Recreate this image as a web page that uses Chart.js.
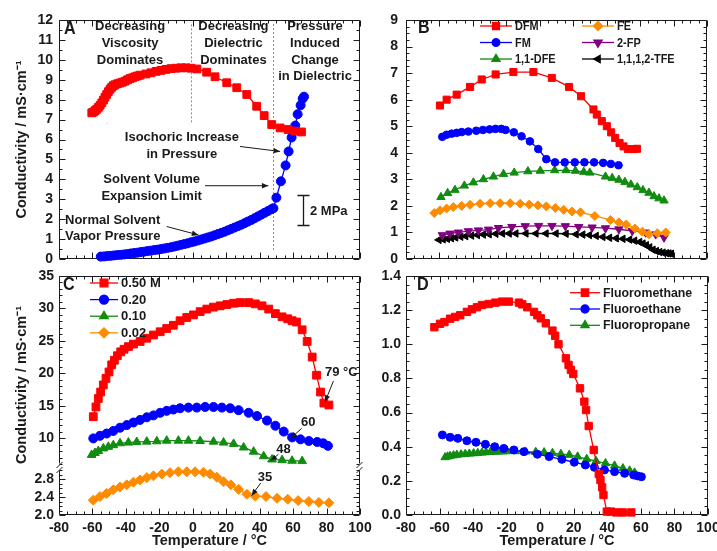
<!DOCTYPE html>
<html>
<head>
<meta charset="utf-8">
<script src="https://cdn.jsdelivr.net/npm/chart.js@4"></script>
<style>
  html, body { margin: 0; padding: 0; background: #fff; }
  #wrap { position: relative; width: 717px; height: 551px; overflow: hidden; background: #fff; }
  #wrap canvas { position: absolute; left: 0; top: 0; }
</style>
</head>
<body>
<div id="wrap">
  <canvas id="cA" width="717" height="551"></canvas>
  <canvas id="cB" width="717" height="551"></canvas>
  <canvas id="cC1" width="717" height="551"></canvas>
  <canvas id="cC2" width="717" height="551"></canvas>
  <canvas id="cD" width="717" height="551"></canvas>
</div>
<script>
// ---- tick labels
const tempTicks = [-80, -60, -40, -20, 0, 20, 40, 60, 80, 100];
const aTicks = [0, 1, 2, 3, 4, 5, 6, 7, 8, 9, 10, 11, 12];
const bTicks = [0, 1, 2, 3, 4, 5, 6, 7, 8, 9];
const cHighTicks = [10, 15, 20, 25, 30, 35];
const cLowTicks = [2.0, 2.4, 2.8];
const dTicks = [0, 0.2, 0.4, 0.6, 0.8, 1.0, 1.2, 1.4];

// ---- panel A : DFM with 0.20 M electrolyte
const aDfmT = [-60.4, -59.4, -58.4, -57.4, -56.4, -55.4, -54.4, -53.4, -52.5, -51.5, -50.5, -49.5, -48.5, -47.5, -46.5, -45, -43.5, -42, -40.5, -39, -37.5, -36, -34.5, -33, -31.5, -28, -25, -22, -19, -16, -13, -10, -7, -4, -1, 2.5, 8.3, 13.3, 20.3, 26.3, 32.3, 38.2, 42.7, 47.2, 52.2, 57, 61, 65];
const aDfmV = [7.34, 7.38, 7.45, 7.52, 7.62, 7.72, 7.84, 7.98, 8.12, 8.26, 8.4, 8.52, 8.62, 8.7, 8.75, 8.8, 8.84, 8.88, 8.93, 9.0, 9.06, 9.1, 9.15, 9.19, 9.23, 9.29, 9.35, 9.42, 9.47, 9.52, 9.56, 9.58, 9.6, 9.6, 9.58, 9.54, 9.38, 9.15, 8.85, 8.6, 8.26, 7.67, 7.2, 6.75, 6.58, 6.5, 6.42, 6.38];
const aFmT = [-55, -53, -51, -49, -47, -45, -43, -41, -39, -37, -35, -33, -31, -29, -27, -25, -23, -21, -19, -17, -15, -13, -11, -9, -7, -5, -3, -1, 1, 3, 5, 7, 9, 11, 13, 15, 17, 19, 21, 23, 25, 27, 29, 31, 33, 35, 37, 39, 41, 43, 45, 47, 48.2, 50, 52.7, 55.5, 57.3, 59.1, 61.3, 62.7, 64.5, 65.7, 66.5];
const aFmV = [0.12, 0.13, 0.15, 0.16, 0.18, 0.2, 0.21, 0.23, 0.25, 0.28, 0.3, 0.32, 0.35, 0.37, 0.4, 0.42, 0.45, 0.47, 0.5, 0.53, 0.56, 0.59, 0.63, 0.67, 0.71, 0.75, 0.79, 0.84, 0.88, 0.93, 0.98, 1.03, 1.08, 1.13, 1.19, 1.25, 1.31, 1.37, 1.44, 1.51, 1.58, 1.65, 1.72, 1.8, 1.88, 1.96, 2.05, 2.14, 2.23, 2.32, 2.41, 2.5, 2.55, 3.08, 3.9, 4.7, 5.4, 6.1, 6.7, 7.27, 7.72, 8.05, 8.15];

// ---- panel B : solvents
const bDfmT = [-59.7, -55.7, -49.7, -41.7, -34.7, -26.4, -15.8, -3.8, 7.2, 17.5, 24.7, 32.1, 34.1, 37.1, 40.1, 42.7, 45.1, 47.7, 50.1, 52.7, 56.1, 58.1];
const bDfmV = [5.78, 6.0, 6.19, 6.48, 6.76, 6.95, 7.04, 7.04, 6.82, 6.48, 6.13, 5.63, 5.44, 5.19, 5.0, 4.77, 4.56, 4.37, 4.24, 4.14, 4.14, 4.15];
const bFmT = [-58.3, -55.7, -52.7, -49.7, -46.7, -42.7, -38, -34, -30, -26.5, -23, -20.5, -15.5, -10.9, -5.9, -0.9, 3.9, 9.1, 14.9, 20.9, 26.7, 32.5, 37.9, 42.5, 47.1];
const bFmV = [4.6, 4.68, 4.72, 4.75, 4.78, 4.8, 4.83, 4.86, 4.88, 4.9, 4.9, 4.86, 4.77, 4.62, 4.43, 4.14, 3.76, 3.64, 3.64, 3.64, 3.64, 3.64, 3.62, 3.58, 3.53];
const bDfeT = [-59.1, -55.1, -50.7, -45.1, -39.7, -33.7, -27.7, -21.7, -15.3, -7.1, 0.3, 8.9, 15.7, 21.3, 26.3, 29.9, 39.3, 43.3, 47.3, 50.9, 54.5, 58.3, 61.7, 65.3, 68.3, 71.3, 74.3];
const bDfeV = [2.33, 2.48, 2.6, 2.76, 2.88, 3.0, 3.1, 3.2, 3.25, 3.3, 3.32, 3.34, 3.34, 3.32, 3.28, 3.25, 3.1, 3.05, 2.98, 2.9, 2.8, 2.7, 2.59, 2.49, 2.36, 2.28, 2.2];
const bFeT = [-63.1, -59.7, -55.7, -51.7, -46.7, -41.7, -35.7, -29.7, -23.7, -17.7, -11.7, -6.3, -1.1, 3.9, 9.3, 14.3, 19.3, 24.3, 32.9, 42.3, 47.3, 51.7, 56.9, 61.3, 65.3, 70.3, 75.3];
const bFeV = [1.73, 1.83, 1.9, 1.96, 2.0, 2.04, 2.08, 2.1, 2.1, 2.1, 2.08, 2.05, 2.02, 1.98, 1.92, 1.85, 1.79, 1.76, 1.62, 1.47, 1.38, 1.3, 1.15, 1.03, 0.93, 0.97, 1.0];
const bFpT = [-58.3, -53.7, -48.7, -42.7, -36.7, -30.7, -24.7, -16.7, -8.7, -0.7, 7.3, 15.3, 23.3, 31.3, 39.3, 47.3, 55.3, 63.3, 69.3, 74.3];
const bFpV = [0.9, 0.96, 1.0, 1.05, 1.08, 1.11, 1.17, 1.21, 1.24, 1.25, 1.25, 1.24, 1.21, 1.19, 1.16, 1.12, 1.06, 1.0, 0.93, 0.81];
const bTfeT = [-60.3, -57.8, -55.3, -52.8, -50.3, -47.3, -44.3, -40.8, -37.3, -33.8, -30.3, -26.3, -22.3, -18.3, -14.3, -8.3, -2.3, 3.7, 9.7, 15.7, 21.7, 25.7, 29.7, 33.7, 37.7, 41.7, 45.7, 49.7, 53.7, 56.7, 59.7, 61.7, 63.7, 65.7, 67.7, 69.7, 71.7, 73.7, 75.7, 77.2, 78.7];
const bTfeV = [0.72, 0.74, 0.76, 0.78, 0.81, 0.84, 0.86, 0.88, 0.9, 0.92, 0.93, 0.95, 0.96, 0.96, 0.96, 0.96, 0.96, 0.96, 0.96, 0.95, 0.93, 0.92, 0.9, 0.87, 0.83, 0.8, 0.78, 0.76, 0.73, 0.69, 0.64, 0.58, 0.52, 0.44, 0.35, 0.3, 0.26, 0.24, 0.22, 0.21, 0.2];

// ---- panel C : salt concentration
const c050T = [-59.5, -57.9, -56.5, -55.1, -53.5, -51.9, -50.1, -48.5, -46.9, -45.1, -43.1, -41.1, -38.5, -35.5, -31.5, -27.5, -23.5, -19.5, -15.6, -11.6, -7.6, -3.6, 0.4, 4.4, 8.4, 12.4, 16.4, 20.4, 24.4, 28.4, 33.4, 37.4, 41.4, 45.4, 49.4, 53.4, 56.8, 59.4, 62, 65.4, 68.4, 71.4, 74, 76.4, 78.4, 81.4];
const c050V = [13.3, 14.8, 16.1, 17.1, 18.2, 19.2, 20.2, 21.3, 22.0, 22.7, 23.3, 23.7, 24.1, 24.5, 24.9, 25.4, 25.9, 26.4, 26.9, 27.4, 28.1, 28.6, 29.0, 29.5, 29.9, 30.2, 30.4, 30.6, 30.8, 30.9, 30.9, 30.7, 30.4, 29.9, 29.2, 28.7, 28.4, 28.1, 27.9, 26.7, 24.9, 22.5, 19.7, 17.1, 15.4, 15.1];
const c020T = [-59.5, -55.5, -51.5, -47.5, -43.5, -39.5, -35.5, -31.5, -27.5, -23.5, -19.5, -15.6, -11.6, -7.6, -2.6, 2.4, 7.4, 12.4, 17.4, 22.4, 27.4, 33.4, 38.4, 44.4, 49.4, 54.4, 59.4, 64.4, 69.4, 74.4, 78, 80.8];
const c020V = [9.95, 10.35, 10.7, 11.1, 11.6, 12.0, 12.4, 12.8, 13.2, 13.5, 13.9, 14.2, 14.4, 14.6, 14.7, 14.7, 14.8, 14.8, 14.7, 14.6, 14.3, 13.9, 13.4, 12.7, 11.9, 11.0, 10.1, 9.8, 9.55, 9.4, 9.2, 8.8];
const c010T = [-60.5, -58.5, -56.5, -53.5, -50.5, -47.5, -43.5, -38.5, -33.5, -27.5, -21.5, -15.6, -8.6, -2.6, 4.4, 12.4, 18.4, 24.4, 30.4, 36.4, 42.4, 47.4, 53.4, 59.4, 65.4];
const c010V = [7.4, 7.7, 8.0, 8.4, 8.65, 8.9, 9.2, 9.3, 9.4, 9.45, 9.5, 9.6, 9.6, 9.6, 9.55, 9.45, 9.3, 9.1, 8.55, 7.9, 7.2, 6.7, 6.6, 6.5, 6.45];
const c002T = [-59.5, -55.5, -51.5, -47.5, -43.5, -39.5, -35.5, -31.5, -27.5, -23.5, -18.5, -13.6, -8.6, -3.6, 1.4, 6.4, 10.4, 14.4, 18.4, 22.8, 27.4, 32.4, 37.4, 43.8, 50.4, 56.8, 63, 69.4, 75.4, 81.4];
const c002V = [2.33, 2.41, 2.48, 2.56, 2.62, 2.67, 2.73, 2.78, 2.83, 2.87, 2.91, 2.94, 2.96, 2.96, 2.96, 2.95, 2.91, 2.84, 2.74, 2.67, 2.57, 2.46, 2.42, 2.41, 2.37, 2.35, 2.32, 2.3, 2.28, 2.27];

// ---- panel D : mono-fluorinated alkanes
const dFmT = [-63.1, -59.7, -57.1, -53.7, -50.7, -47.7, -43.7, -40.7, -37.7, -34.7, -30.7, -26.7, -22.7, -18.7, -12.7, -10.7, -7.7, -3.7, -1.7, 0.3, 3.3, 7.3, 8.9, 10.9, 15.3, 16.9, 18.3, 19.7, 23.7, 26.3, 27.3, 28.9, 31.9, 34.9, 35.9, 36.9, 37.7, 39.7, 42.3, 45.3, 49.3, 54.3];
const dFmV = [1.10, 1.12, 1.13, 1.15, 1.16, 1.17, 1.19, 1.205, 1.217, 1.23, 1.236, 1.244, 1.25, 1.25, 1.244, 1.234, 1.217, 1.19, 1.17, 1.152, 1.123, 1.08, 1.05, 1.0, 0.918, 0.879, 0.85, 0.826, 0.742, 0.664, 0.615, 0.521, 0.381, 0.24, 0.205, 0.162, 0.117, 0.02, 0.02, 0.015, 0.015, 0.015];
const dFeT = [-58.3, -53.7, -49.1, -43.7, -38.3, -32.7, -27.1, -21.7, -15.7, -9.7, -1.7, 5.3, 12.9, 20.3, 26.9, 32.3, 38.3, 44.3, 50.3, 55.7, 58, 60.3];
const dFeV = [0.469, 0.455, 0.449, 0.435, 0.426, 0.414, 0.4, 0.39, 0.381, 0.371, 0.356, 0.342, 0.326, 0.309, 0.293, 0.279, 0.264, 0.254, 0.244, 0.234, 0.229, 0.224];
const dFpT = [-56.7, -55.2, -53.7, -51.7, -49.7, -47.2, -44.7, -42.2, -39.7, -37.2, -34.7, -32.2, -29.7, -27.2, -24.7, -22.2, -19.7, -14.7, -8.7, -2.7, 2.3, 7.3, 12.3, 17.3, 22.3, 27.7, 33.3, 38.9, 44.3, 49.3, 53.3, 56.3];
const dFpV = [0.338, 0.342, 0.346, 0.349, 0.352, 0.355, 0.357, 0.359, 0.361, 0.363, 0.365, 0.367, 0.369, 0.37, 0.371, 0.372, 0.373, 0.373, 0.371, 0.369, 0.367, 0.363, 0.357, 0.352, 0.342, 0.328, 0.316, 0.303, 0.289, 0.273, 0.26, 0.248];

const INK = '#1a1a1a';
const RED = '#ff0000', BLUE = '#0000ff', GREEN = '#118c11', ORANGE = '#ff8c00', PURPLE = '#800080', BLACK = '#000000';
const SANS = "'Liberation Sans', Arial, sans-serif";

function series(label, xs, ys, color, style, r, rot) {
  return {
    label, data: xs.map((x, i) => ({ x, y: ys[i] })),
    borderColor: color, backgroundColor: color, borderWidth: 1.3,
    pointStyle: style, pointRadius: r, pointRotation: rot || 0,
    pointBackgroundColor: color, pointBorderColor: color, pointBorderWidth: 1,
    tension: 0, clip: false
  };
}

function arrow(ctx, x1, y1, x2, y2) {
  const a = Math.atan2(y2 - y1, x2 - x1), h = 7;
  ctx.beginPath(); ctx.moveTo(x1, y1); ctx.lineTo(x2, y2); ctx.stroke();
  ctx.beginPath(); ctx.moveTo(x2, y2);
  ctx.lineTo(x2 - h * Math.cos(a - 0.4), y2 - h * Math.sin(a - 0.4));
  ctx.lineTo(x2 - h * Math.cos(a + 0.4), y2 - h * Math.sin(a + 0.4));
  ctx.closePath(); ctx.fill();
}

// text squeezed horizontally (the figure uses a condensed face)
function narrowText(ctx, t, x, y, k) {
  ctx.save(); ctx.translate(x, y); ctx.scale(k, 1); ctx.fillText(t, 0, 0); ctx.restore();
}

// frame, inward ticks, notes, legend
const decor = {
  id: 'decor',
  beforeDatasetsDraw(chart, args, o) {
    const { ctx, chartArea: a, scales: { x, y } } = chart;
    const sides = o.sides || 'tblr';
    const L = a.left + 0.5, R = a.right - 0.5, T = a.top + 0.5, B = a.bottom - 0.5;
    ctx.save();
    ctx.strokeStyle = INK; ctx.lineWidth = 1;
    ctx.beginPath();
    const seg = (x1, y1, x2, y2) => { ctx.moveTo(x1, y1); ctx.lineTo(x2, y2); };
    if (sides.includes('t')) seg(L, T, R, T);
    if (sides.includes('b')) seg(L, B, R, B);
    if (sides.includes('l')) seg(L, T, L, B);
    if (sides.includes('r')) seg(R, T, R, B);
    const nx = Math.round((x.max - x.min) / o.xMinor);
    for (let i = 0; i <= nx; i++) {
      const v = x.min + i * o.xMinor;
      const len = tempTicks.some(t => Math.abs(t - v) < 1e-6) ? 6 : 3;
      const px = Math.round(x.getPixelForValue(v)) + 0.5;
      if (sides.includes('b')) seg(px, B, px, B - len);
      if (sides.includes('t')) seg(px, T, px, T + len);
    }
    const ny = Math.round((y.max - y.min) / o.yMinor);
    for (let i = 0; i <= ny; i++) {
      const v = y.min + i * o.yMinor;
      const len = o.yMajor.some(t => Math.abs(t - v) < 1e-6) ? 6 : 3;
      const py = Math.round(y.getPixelForValue(v)) + 0.5;
      if (sides.includes('l')) seg(L, py, L + len, py);
      if (sides.includes('r')) seg(R, py, R - len, py);
    }
    ctx.stroke();
    (o.vlines || []).forEach(l => {
      ctx.beginPath();
      ctx.strokeStyle = '#8a8a8a'; ctx.setLineDash([2, 2]);
      const px = Math.round(x.getPixelForValue(l.x)) + 0.5;
      seg(px, y.getPixelForValue(l.y1), px, y.getPixelForValue(l.y2));
      ctx.stroke();
    });
    ctx.restore();
  },
  afterDatasetsDraw(chart, args, o) {
    const { ctx, chartArea: a, scales: { x, y } } = chart;
    ctx.save();
    ctx.fillStyle = INK; ctx.strokeStyle = INK; ctx.lineWidth = 1;
    if (o.letter) {
      ctx.font = 'bold 19px ' + SANS;
      ctx.textAlign = 'left'; ctx.textBaseline = 'alphabetic';
      narrowText(ctx, o.letter, a.left + o.letterDx, a.top + o.letterDy, 0.85);
    }
    (o.notes || []).forEach(n => {
      ctx.font = 'bold 13px ' + SANS;
      ctx.textAlign = n.align || 'center'; ctx.textBaseline = 'middle';
      const px = x.getPixelForValue(n.x), py = y.getPixelForValue(n.y);
      n.lines.forEach((t, i) => ctx.fillText(t, px, py + i * 16.7));
    });
    (o.arrows || []).forEach(r => arrow(ctx,
      x.getPixelForValue(r.x1), y.getPixelForValue(r.y1),
      x.getPixelForValue(r.x2), y.getPixelForValue(r.y2)));
    if (o.bar) {
      const px = Math.round(x.getPixelForValue(o.bar.x)) + 0.5;
      const y1 = Math.round(y.getPixelForValue(o.bar.y1)) + 0.5, y2 = Math.round(y.getPixelForValue(o.bar.y2)) + 0.5;
      ctx.lineWidth = 1.3;
      ctx.beginPath();
      ctx.moveTo(px, y1); ctx.lineTo(px, y2);
      ctx.moveTo(px - 6, y1); ctx.lineTo(px + 6, y1);
      ctx.moveTo(px - 6, y2); ctx.lineTo(px + 6, y2);
      ctx.stroke();
    }
    if (o.breakAt) {
      ctx.lineWidth = 1;
      [a.left + 0.5, a.right - 0.5].forEach(bx => {
        ctx.beginPath();
        ctx.moveTo(bx - 3, o.breakAt + 1); ctx.lineTo(bx + 3, o.breakAt - 5);
        ctx.moveTo(bx - 3, o.breakAt + 6); ctx.lineTo(bx + 3, o.breakAt);
        ctx.stroke();
      });
    }
    if (o.legend) {
      const g = o.legend;
      ctx.font = 'bold ' + g.size + 'px ' + SANS;
      ctx.textAlign = 'left'; ctx.textBaseline = 'middle';
      chart.data.datasets.forEach((ds, i) => {
        const col = Math.floor(i / g.rows), row = i % g.rows;
        const lx = a.left + g.x0 + col * g.colW, ly = a.top + g.y0 + row * g.rowH;
        ctx.strokeStyle = ds.borderColor; ctx.fillStyle = ds.borderColor; ctx.lineWidth = 1.3;
        ctx.beginPath(); ctx.moveTo(lx, ly); ctx.lineTo(lx + g.lineW, ly); ctx.stroke();
        Chart.helpers.drawPoint(ctx, { pointStyle: ds.pointStyle, rotation: ds.pointRotation, radius: ds.pointRadius, borderWidth: 1 }, lx + g.lineW / 2, ly);
        ctx.fillStyle = INK;
        narrowText(ctx, ds.label, lx + g.lineW + 3, ly + 0.5, g.squeeze);
      });
    }
    ctx.restore();
  }
};

function panel(id, p) {
  const W = 717, H = 551;
  const xShown = p.xh > 0;
  return new Chart(document.getElementById(id), {
    type: 'line',
    data: { datasets: p.datasets },
    plugins: [decor],
    options: {
      responsive: false, animation: false,
      layout: { autoPadding: false, padding: { left: p.area.l - p.yw, top: p.area.t, right: W - p.area.r, bottom: H - p.area.b - p.xh } },
      plugins: { legend: { display: false }, tooltip: { enabled: false }, decor: p.decor },
      scales: {
        x: {
          type: 'linear', min: -80, max: 100, display: xShown,
          afterBuildTicks: s => { s.ticks = tempTicks.map(v => ({ value: v })); },
          afterFit: s => { s.height = p.xh; s.paddingLeft = 0; s.paddingRight = 0; },
          grid: { display: false, drawTicks: false }, border: { display: false },
          ticks: { color: INK, font: { family: SANS, size: 14, weight: 'bold' }, padding: 5, maxRotation: 0, autoSkip: false },
          title: { display: xShown, text: 'Temperature / °C', color: INK, font: { family: SANS, size: 14.5, weight: 'bold' }, padding: { top: 0, bottom: 1 } }
        },
        y: {
          type: 'linear', min: p.yMin, max: p.yMax,
          afterBuildTicks: s => { s.ticks = p.yTicks.map(v => ({ value: v })); },
          afterFit: s => { s.width = p.yw; s.paddingTop = 0; s.paddingBottom = 0; },
          grid: { display: false, drawTicks: false }, border: { display: false },
          ticks: { color: INK, font: { family: SANS, size: 14, weight: 'bold' }, padding: p.yPad, callback: p.yFmt },
          title: { display: !!p.yTitle, text: p.yTitle, align: p.yTitleAlign || 'center', color: INK, font: { family: SANS, size: 14.5, weight: 'bold' }, padding: { top: 13, bottom: 0 } }
        }
      }
    }
  });
}

const yTitle = 'Conductivity / mS·cm⁻¹';
const intFmt = v => String(v);
const oneFmt = v => v.toFixed(1);

panel('cA', {
  area: { l: 59, t: 20, r: 360, b: 259 }, yw: 59, xh: 0, yMin: 0, yMax: 12, yTicks: aTicks, yFmt: intFmt, yPad: 6, yTitle,
  datasets: [
    series('DFM', aDfmT, aDfmV, RED, 'rect', 5.5),
    series('DFM 0.2 M', aFmT, aFmV, BLUE, 'circle', 4.5)
  ],
  decor: {
    letter: 'A', letterDx: 5, letterDy: 14, xMinor: 5, yMinor: 0.5, yMajor: aTicks,
    vlines: [{ x: -1.2, y1: 6.86, y2: 11.9 }, { x: 48.2, y1: 0.45, y2: 11.9 }],
    notes: [
      { x: -37.5, y: 11.66, lines: ['Decreasing', 'Viscosity', 'Dominates'] },
      { x: 24.3, y: 11.66, lines: ['Decreasing', 'Dielectric', 'Dominates'] },
      { x: 73.1, y: 11.66, lines: ['Pressure', 'Induced', 'Change', 'in Dielectric'] },
      { x: -6.5, y: 6.08, lines: ['Isochoric Increase', 'in Pressure'] },
      { x: -24.6, y: 3.98, lines: ['Solvent Volume', 'Expansion Limit'] },
      { x: -47.9, y: 1.96, lines: ['Normal Solvent', 'Vapor Pressure'] },
      { x: 70.1, y: 2.38, lines: ['2 MPa'], align: 'left' }
    ],
    arrows: [
      { x1: 28.2, y1: 5.65, x2: 52.2, y2: 5.4 },
      { x1: 7.3, y1: 3.68, x2: 45.2, y2: 3.68 },
      { x1: -15.6, y1: 1.63, x2: 3.3, y2: 1.21 }
    ],
    bar: { x: 66.1, y1: 3.19, y2: 1.71 }
  }
});

panel('cB', {
  area: { l: 406, t: 20, r: 707, b: 259 }, yw: 44, xh: 0, yMin: 0, yMax: 9, yTicks: bTicks, yFmt: intFmt, yPad: 8,
  datasets: [
    series('DFM', bDfmT, bDfmV, RED, 'rect', 5),
    series('FM', bFmT, bFmV, BLUE, 'circle', 3.8),
    series('1,1-DFE', bDfeT, bDfeV, GREEN, 'triangle', 4.8),
    series('FE', bFeT, bFeV, ORANGE, 'rectRot', 4.5),
    series('2-FP', bFpT, bFpV, PURPLE, 'triangle', 4.8, 180),
    series('1,1,1,2-TFE', bTfeT, bTfeV, BLACK, 'triangle', 4.3, -90)
  ],
  decor: {
    letter: 'B', letterDx: 12, letterDy: 13, xMinor: 5, yMinor: 0.25, yMajor: bTicks,
    legend: { x0: 74, y0: 6, colW: 102, rowH: 16.5, rows: 3, lineW: 32, size: 13, squeeze: 0.84 }
  }
});

panel('cC1', {
  area: { l: 59, t: 276, r: 360, b: 464 }, yw: 59, xh: 0, yMin: 6, yMax: 35, yTicks: cHighTicks, yFmt: intFmt, yPad: 5, yTitle, yTitleAlign: 'start',
  datasets: [
    series('0.50 M', c050T, c050V, RED, 'rect', 5.5),
    series('0.20', c020T, c020V, BLUE, 'circle', 4.5),
    series('0.10', c010T, c010V, GREEN, 'triangle', 5),
    series('0.02', [], [], ORANGE, 'rectRot', 5)
  ],
  decor: {
    letter: 'C', letterDx: 4, letterDy: 14, sides: 'tlr', xMinor: 5, yMinor: 1, yMajor: cHighTicks,
    legend: { x0: 31, y0: 7, colW: 0, rowH: 16.6, rows: 4, lineW: 28, size: 13, squeeze: 1 },
    notes: [
      { x: 79.1, y: 20.1, lines: ['79 °C'], align: 'left' },
      { x: 69.1, y: 12.4, lines: ['60'] },
      { x: 54.2, y: 8.3, lines: ['48'] }
    ],
    arrows: [
      { x1: 84.1, y1: 18.8, x2: 79.1, y2: 15.6 },
      { x1: 65.1, y1: 11.5, x2: 58.6, y2: 9.95 },
      { x1: 51.2, y1: 7.5, x2: 46.6, y2: 6.5 }
    ]
  }
});

panel('cC2', {
  area: { l: 59, t: 470, r: 360, b: 515 }, yw: 59, xh: 36, yMin: 2.0, yMax: 3.0, yTicks: cLowTicks, yFmt: oneFmt, yPad: 5,
  datasets: [
    series('0.02', c002T, c002V, ORANGE, 'rectRot', 5)
  ],
  decor: {
    sides: 'blr', xMinor: 5, yMinor: 0.1, yMajor: cLowTicks, breakAt: 467,
    notes: [{ x: 43.2, y: 2.84, lines: ['35'] }],
    arrows: [{ x1: 40.6, y1: 2.71, x2: 35.2, y2: 2.43 }]
  }
});

panel('cD', {
  area: { l: 406, t: 276, r: 708, b: 515 }, yw: 44, xh: 36, yMin: 0, yMax: 1.4, yTicks: dTicks, yFmt: oneFmt, yPad: 5,
  datasets: [
    series('Fluoromethane', dFmT, dFmV, RED, 'rect', 5.2),
    series('Fluoroethane', dFeT, dFeV, BLUE, 'circle', 4),
    series('Fluoropropane', dFpT, dFpV, GREEN, 'triangle', 4.8)
  ],
  decor: {
    letter: 'D', letterDx: 11, letterDy: 14, xMinor: 5, yMinor: 0.05, yMajor: dTicks,
    legend: { x0: 164, y0: 16.7, colW: 0, rowH: 16.3, rows: 3, lineW: 30, size: 13, squeeze: 0.95 }
  }
});
</script>
</body>
</html>
